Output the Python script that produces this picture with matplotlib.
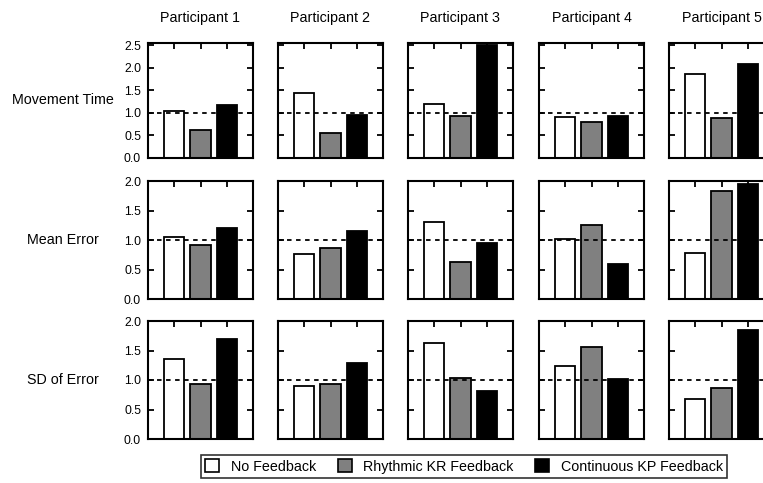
import numpy as np
import matplotlib.pyplot as plt
from matplotlib.patches import Patch

plt.rcParams['font.family'] = ['Liberation Sans', 'DejaVu Sans']

participants = ['Participant 1', 'Participant 2', 'Participant 3', 'Participant 4', 'Participant 5']
measures = ['Movement Time', 'Mean Error', 'SD of Error']
conditions = ['No Feedback', 'Rhythmic KR Feedback', 'Continuous KP Feedback']
colors = ['white', '#808080', 'black']

# one row per participant: no feedback, rhythmic KR, continuous KP
movement_time = [[1.04, 0.61, 1.18],
                 [1.45, 0.56, 0.95],
                 [1.20, 0.93, 2.50],
                 [0.92, 0.80, 0.94],
                 [1.86, 0.89, 2.09]]
mean_error = [[1.05, 0.91, 1.21],
              [0.76, 0.87, 1.15],
              [1.30, 0.63, 0.95],
              [1.01, 1.25, 0.60],
              [0.78, 1.83, 1.95]]
sd_error = [[1.35, 0.93, 1.69],
            [0.90, 0.94, 1.29],
            [1.62, 1.04, 0.82],
            [1.24, 1.56, 1.01],
            [0.68, 0.87, 1.84]]

data = [movement_time, mean_error, sd_error]
ylims = [2.55, 2.0, 2.0]
yticks = [np.arange(0, 2.51, 0.5), np.arange(0, 2.01, 0.5), np.arange(0, 2.01, 0.5)]

W, H = 763, 483
fig = plt.figure(figsize=(W / 100, H / 100), dpi=100)

col_left = [148, 278, 408, 539, 669]
row_span = [(43, 158), (181, 299), (321, 439)]
ax_w = 105

x = np.arange(1, 4)
for r in range(3):
    top, bot = row_span[r]
    for c in range(5):
        ax = fig.add_axes([col_left[c] / W, 1 - bot / H, ax_w / W, (bot - top) / H])
        ax.bar(x, data[r][c], width=0.78, color=colors, edgecolor='black', linewidth=1.3, zorder=2)
        ax.axhline(1.0, color='black', linestyle=(0, (2.5, 2.5)), linewidth=1.3, zorder=3)
        ax.set_xlim(0, 4)
        ax.set_ylim(0, ylims[r])
        ax.set_xticks(x)
        ax.set_yticks(yticks[r])
        ax.tick_params(direction='in', length=4, width=1.3, top=True, right=True,
                       labelbottom=False, labelsize=8.8, pad=5)
        if c > 0:
            ax.tick_params(labelleft=False)
        else:
            ax.set_yticklabels(['%.1f' % v for v in yticks[r]])
        for s in ax.spines.values():
            s.set_linewidth(1.5)
        if r == 0:
            ax.set_title(participants[c], fontsize=10.3, pad=15)
    fig.text(63 / W, 1 - (top + bot) / 2 / H, measures[r], ha='center', va='center', fontsize=10.3)

handles = [Patch(facecolor=col, edgecolor='black', linewidth=1.2) for col in colors]
leg = fig.legend(handles, conditions, loc='center', bbox_to_anchor=(464 / W, 1 - 466.5 / H),
                 ncol=3, fontsize=10.3, frameon=True, fancybox=False, edgecolor='black',
                 handlelength=1.0, handleheight=1.0, handletextpad=0.8, columnspacing=1.5,
                 borderpad=0.3, borderaxespad=0.0)
leg.get_frame().set_linewidth(1.2)

plt.savefig('out.png', dpi=100)
